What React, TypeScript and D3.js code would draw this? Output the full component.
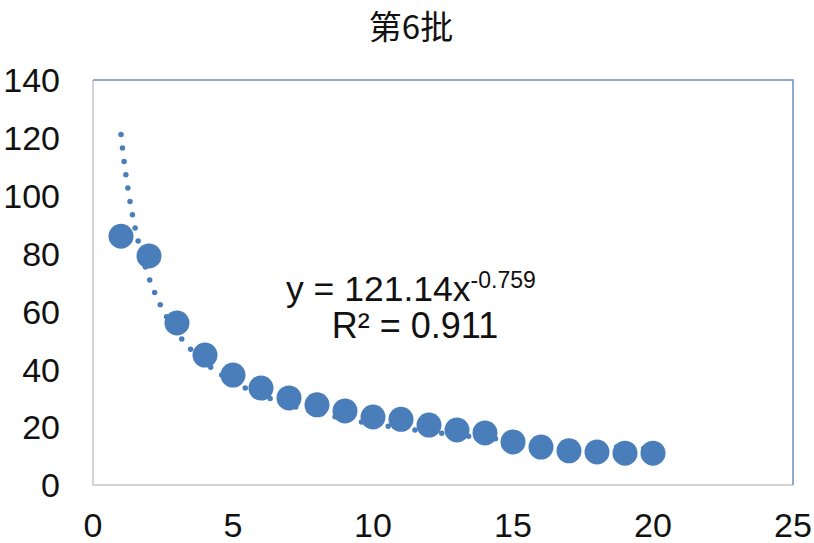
import React, { useEffect, useRef } from "react";
import * as d3 from "d3";

// batch number -> value
const xValues = [1, 2, 3, 4, 5, 6, 7, 8, 9, 10, 11, 12, 13, 14, 15, 16, 17, 18, 19, 20];
const yValues = [86, 79.2, 56, 44.9, 38, 33.5, 30.1, 27.7, 25.6, 23.5, 22.7, 20.7, 19, 18, 14.9, 13.1, 11.8, 11.4, 11, 11];
const xTicks = [0, 5, 10, 15, 20, 25];
const yTicks = [0, 20, 40, 60, 80, 100, 120, 140];
const fitA = 121.14;
const fitB = -0.759;
const fitR2 = "0.911";
const title = "第6批";

const App = () => {
  const svgRef = useRef<SVGSVGElement>(null);

  useEffect(() => {
    const width = 814;
    const height = 543;
    const plot = { left: 93, right: 793, top: 80, bottom: 485 };
    const font = "'Liberation Sans', Arial, sans-serif";
    const color = "#4a7ebb";

    const svg = d3.select(svgRef.current);
    svg.selectAll("*").remove();
    svg.attr("width", width).attr("height", height);

    svg.append("rect").attr("width", width).attr("height", height).attr("fill", "#fff");

    const x = d3.scaleLinear().domain([0, 25]).range([plot.left, plot.right]);
    const y = d3.scaleLinear().domain([0, 140]).range([plot.bottom, plot.top]);

    // plot area border: grey left/bottom, blue top/right
    svg
      .append("path")
      .attr("d", `M${plot.left},${plot.top}V${plot.bottom}H${plot.right}`)
      .attr("fill", "none")
      .attr("stroke", "#d4d4d4")
      .attr("stroke-width", 2);
    svg
      .append("path")
      .attr("d", `M${plot.left},${plot.top}H${plot.right}V${plot.bottom}`)
      .attr("fill", "none")
      .attr("stroke", "#6d8cc4")
      .attr("stroke-width", 1.5);

    // axis labels
    svg
      .append("g")
      .selectAll("text")
      .data(yTicks)
      .enter()
      .append("text")
      .attr("x", 60)
      .attr("y", (d) => y(d))
      .attr("dy", "0.36em")
      .attr("text-anchor", "end")
      .attr("font-family", font)
      .attr("font-size", 34)
      .attr("fill", "#111")
      .text((d) => d);

    svg
      .append("g")
      .selectAll("text")
      .data(xTicks)
      .enter()
      .append("text")
      .attr("x", (d) => x(d))
      .attr("y", 537)
      .attr("text-anchor", "middle")
      .attr("font-family", font)
      .attr("font-size", 34)
      .attr("fill", "#111")
      .text((d) => d);

    const points = xValues.map((v, i) => ({ x: v, y: yValues[i] }));

    // power trendline
    const trend = d3.range(1, 20.01, 0.05).map((v) => ({ x: v, y: fitA * Math.pow(v, fitB) }));
    svg
      .append("path")
      .datum(trend)
      .attr(
        "d",
        d3
          .line<{ x: number; y: number }>()
          .x((d) => x(d.x))
          .y((d) => y(d.y))
      )
      .attr("fill", "none")
      .attr("stroke", color)
      .attr("stroke-width", 5.5)
      .attr("stroke-linecap", "round")
      .attr("stroke-dasharray", "0,13.5");

    // markers
    svg
      .append("g")
      .selectAll("circle")
      .data(points)
      .enter()
      .append("circle")
      .attr("cx", (d) => x(d.x))
      .attr("cy", (d) => y(d.y))
      .attr("r", 12.5)
      .attr("fill", color);

    // equation
    const eq = svg
      .append("text")
      .attr("x", 286)
      .attr("y", 301)
      .attr("font-family", font)
      .attr("font-size", 35.5)
      .attr("fill", "#111");
    eq.append("tspan").text(`y = ${fitA}x`);
    eq.append("tspan").attr("dy", -13).attr("font-size", 23).text(`${fitB}`);

    svg
      .append("text")
      .attr("x", 415)
      .attr("y", 338)
      .attr("text-anchor", "middle")
      .attr("font-family", font)
      .attr("font-size", 36)
      .attr("fill", "#111")
      .text(`R² = ${fitR2}`);

    svg
      .append("text")
      .attr("x", 411)
      .attr("y", 38.5)
      .attr("text-anchor", "middle")
      .attr("font-family", "'Noto Sans CJK SC', sans-serif")
      .attr("font-size", 33)
      .attr("fill", "#111")
      .text(title);
  }, []);

  return <svg ref={svgRef} style={{ position: "absolute", left: 0, top: 0 }}></svg>;
};

export default App;
